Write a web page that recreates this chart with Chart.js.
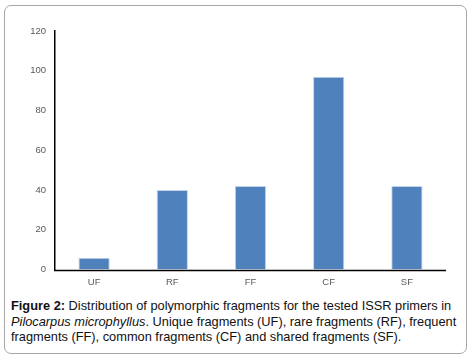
<!DOCTYPE html>
<html>
<head>
<meta charset="utf-8">
<script src="https://cdn.jsdelivr.net/npm/chart.js@4"></script>
<style>
  body { margin: 0; background: #fff; }
  #frame {
    position: absolute; left: 4px; top: 5px; width: 461px; height: 347px;
    border: 1px solid #a8a8a8; border-radius: 7px;
  }
  #wrap { position: absolute; left: 0; top: 0; width: 470px; height: 295px; }
  #caption {
    position: absolute; left: 11px; top: 298px; width: 448px;
    font-family: "Liberation Sans", Arial, sans-serif; font-size: 12.8px;
    line-height: 15.5px; color: #111;
  }
</style>
</head>
<body>
<div id="frame"></div>
<div id="wrap"><canvas id="fragChart"></canvas></div>
<div id="caption"><b>Figure 2:</b> Distribution of polymorphic fragments for the tested ISSR primers in <i>Pilocarpus microphyllus</i>. Unique fragments (UF), rare fragments (RF), frequent fragments (FF), common fragments (CF) and shared fragments (SF).</div>
<script>
// kategoriat ja arvot luettu kuvasta
const categories = ['UF', 'RF', 'FF', 'CF', 'SF'];
const fragmentCounts = [6, 40, 42, 97, 42];
const yTicks = [0, 20, 40, 60, 80, 100, 120];

// x-akselin viiva nollatasolle (border ei piirtynyt)
const baseLine = {
    id: 'baseLine',
    afterDatasetsDraw(chart) {
        const { ctx, scales: { x, y } } = chart;
        const yPos = Math.round(y.getPixelForValue(0)) + 0.5;
        ctx.save();
        ctx.strokeStyle = '#000';
        ctx.lineWidth = 1.5;
        ctx.beginPath();
        ctx.moveTo(x.left - 1, yPos);
        ctx.lineTo(x.right, yPos);
        ctx.stroke();
        ctx.restore();
    }
};

const ctx = document.getElementById('fragChart').getContext('2d');

new Chart(ctx, {
    type: 'bar',
    data: {
        labels: categories,
        datasets: [{
            data: fragmentCounts,
            backgroundColor: '#4f81bd',
            borderColor: '#c5d3e8',
            borderWidth: 1,
            barPercentage: 0.4,
            categoryPercentage: 1
        }]
    },
    options: {
        responsive: true,
        maintainAspectRatio: false,
        animation: false,
        layout: { padding: { left: 0, right: 24, top: 31, bottom: 0 } },
        plugins: { legend: { display: false }, tooltip: { enabled: false } },
        scales: {
            x: {
                grid: { display: false, drawTicks: false },
                border: { display: false },
                ticks: { color: '#595959', font: { family: 'Liberation Sans', size: 9.5 }, padding: 7 }
            },
            y: {
                min: 0,
                max: 120,
                afterBuildTicks: s => { s.ticks = yTicks.map(v => ({ value: v })); },
                grid: { display: false, drawTicks: false },
                border: { display: true, color: '#000', width: 1.5 },
                ticks: { color: '#595959', font: { family: 'Liberation Sans', size: 9.5 }, padding: 9 },
                afterFit: s => { s.width = 55; }
            }
        }
    },
    plugins: [baseLine]
});
</script>
</body>
</html>
